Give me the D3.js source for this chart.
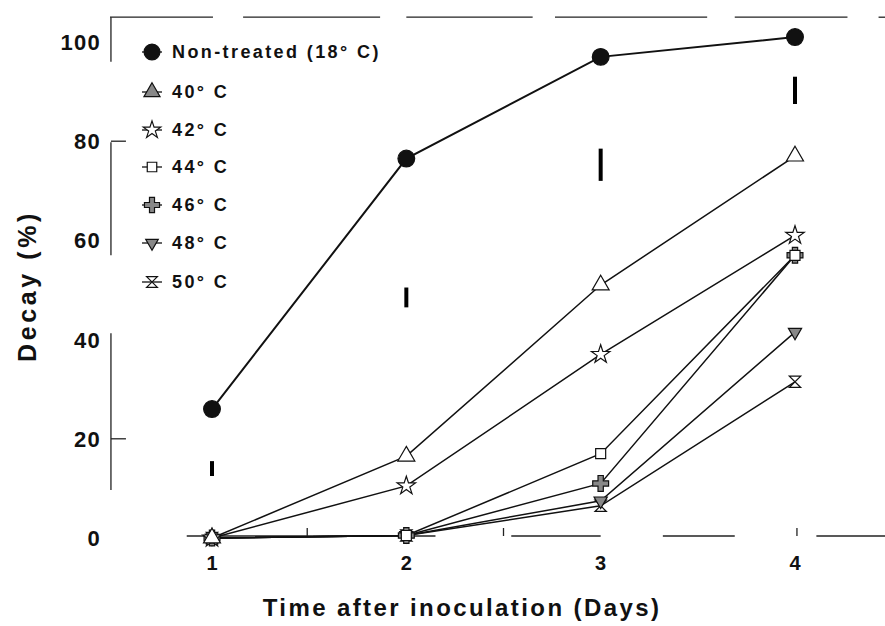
<!DOCTYPE html>
<html>
<head>
<meta charset="utf-8">
<script src="https://cdn.jsdelivr.net/npm/d3@7/dist/d3.min.js"></script>
<style>
  body { margin: 0; background: #fff; }
  text { font-family: "Liberation Sans", Arial, sans-serif; font-weight: bold; fill: #111; }
</style>
</head>
<body>
<div id="chart"></div>
<script>
var days = [1, 2, 3, 4];
var yTicks = [0, 20, 40, 60, 80, 100];

var seriesNames = ["Non-treated (18\u00b0 C)", "40\u00b0 C", "42\u00b0 C", "44\u00b0 C", "46\u00b0 C", "48\u00b0 C", "50\u00b0 C"];
var nonTreated = [26, 76.5, 97, 101];
var t40 = [0, 16.5, 51, 77];
var t42 = [0, 10.5, 37, 61];
var t44 = [0, 0.5, 17, 57];
var t46 = [0, 0.5, 11, 57];
var t48 = [0, 0.5, 7.5, 41.5];
var t50 = [0, 0.5, 6.5, 31.5];

// LSD bars shown above each day
var barLow = [12.5, 46.5, 72, 87.5];
var barHigh = [15.5, 50.5, 78.5, 93];

var width = 885, height = 626;

var x = d3.scaleLinear().domain([1, 4]).range([212, 795]);
var y = d3.scaleLinear().domain([0, 100]).range([538, 42]);

var svg = d3.select("#chart").append("svg")
  .attr("width", width).attr("height", height);

// broken frame, as in the scanned figure (data units)
var topSegs = [[0.475, 1.005], [1.16, 1.865], [2.0, 2.65], [2.765, 3.548], [3.69, 4.27], [4.43, 4.5]];
var leftSegs = [[105, 96], [79.8, 57], [41.3, 9.7]];
var bottomSegs = [[0.87, 2.15], [2.54, 3.0], [3.32, 3.69], [4.11, 4.5]];
var bottomMinor = [1.49, 2.5, 4.01];
var leftMinor = [80, 20];

var frame = svg.append("g").attr("stroke", "#222").attr("stroke-width", 1.3).attr("fill", "none");
frame.selectAll(".top").data(topSegs).enter().append("line")
  .attr("x1", function(d) { return x(d[0]); }).attr("x2", function(d) { return x(d[1]); })
  .attr("y1", y(105)).attr("y2", y(105));
frame.selectAll(".left").data(leftSegs).enter().append("line")
  .attr("x1", x(0.48)).attr("x2", x(0.48))
  .attr("y1", function(d) { return y(d[0]); }).attr("y2", function(d) { return y(d[1]); });
frame.selectAll(".lt").data(leftMinor).enter().append("line")
  .attr("x1", x(0.48)).attr("x2", x(0.48) + 15)
  .attr("y1", function(d) { return y(d); }).attr("y2", function(d) { return y(d); });
frame.selectAll(".bottom").data(bottomSegs).enter().append("line")
  .attr("x1", function(d) { return x(d[0]); }).attr("x2", function(d) { return x(d[1]); })
  .attr("y1", y(0) - 2).attr("y2", y(0) - 2);
frame.selectAll(".bt").data(bottomMinor).enter().append("line")
  .attr("x1", function(d) { return x(d); }).attr("x2", function(d) { return x(d); })
  .attr("y1", y(0) - 2).attr("y2", y(0) - 10);

// y tick labels
svg.append("g").selectAll("text").data(yTicks).enter().append("text")
  .attr("x", 101).attr("y", function(d) { return y(d); })
  .attr("dy", "0.36em").attr("text-anchor", "end")
  .style("font-size", "22px").style("letter-spacing", "1.3px")
  .text(function(d) { return d; });

// x tick labels
svg.append("g").selectAll("text").data(days).enter().append("text")
  .attr("x", function(d) { return x(d); }).attr("y", 570)
  .attr("text-anchor", "middle")
  .style("font-size", "20px")
  .text(function(d) { return d; });

svg.append("text")
  .attr("x", 462).attr("y", 616).attr("text-anchor", "middle")
  .style("font-size", "24px").style("letter-spacing", "2.4px")
  .text("Time after inoculation (Days)");

svg.append("text")
  .attr("transform", "translate(36,286) rotate(-90)")
  .attr("text-anchor", "middle")
  .style("font-size", "25px").style("letter-spacing", "3.6px")
  .text("Decay (%)");

// symbols
var hourglass = {
  draw: function(ctx, size) {
    var r = Math.sqrt(size) / 2;
    ctx.moveTo(-r, -r); ctx.lineTo(r, -r); ctx.lineTo(-r, r); ctx.lineTo(r, r); ctx.closePath();
  }
};
var styles = [
  {type: d3.symbolCircle, size: 220, fill: "#111"},
  {type: d3.symbolTriangle, size: 125, fill: "#fff"},
  {type: d3.symbolStar, size: 105, fill: "#fff"},
  {type: d3.symbolSquare, size: 100, fill: "#fff"},
  {type: d3.symbolCross, size: 140, fill: "#888"},
  {type: d3.symbolTriangle2, size: 125, fill: "#888", rot: 180},
  {type: hourglass, size: 130, fill: "#fff"}
];
var allSeries = [nonTreated, t40, t42, t44, t46, t48, t50];

var line = d3.line()
  .x(function(d, i) { return x(days[i]); })
  .y(function(d) { return y(d); });

var plot = svg.append("g");
plot.selectAll(".series").data(allSeries).enter().append("path")
  .attr("d", line)
  .attr("fill", "none").attr("stroke", "#111")
  .attr("stroke-width", function(d, i) { return i === 0 ? 2 : 1.5; });

// error bars
plot.selectAll(".lsd").data(days).enter().append("line")
  .attr("x1", function(d) { return x(d); }).attr("x2", function(d) { return x(d); })
  .attr("y1", function(d, i) { return y(barLow[i]); })
  .attr("y2", function(d, i) { return y(barHigh[i]); })
  .attr("stroke", "#000").attr("stroke-width", 4);

// markers, drawn from last series to first so the filled circle sits on top
allSeries.slice().reverse().forEach(function(vals, ri) {
  var si = allSeries.length - 1 - ri;
  var st = styles[si];
  plot.append("g").selectAll("path").data(vals).enter().append("path")
    .attr("transform", function(d, i) {
      return "translate(" + x(days[i]) + "," + y(d) + ")" + (st.rot ? " rotate(" + st.rot + ")" : "");
    })
    .attr("d", d3.symbol().type(st.type).size(st.size))
    .attr("fill", st.fill).attr("stroke", "#111").attr("stroke-width", 1.2);
});

// legend
var legendY = [52, 92, 130, 167, 205, 243, 282];
var legend = svg.append("g").selectAll("g").data(seriesNames).enter().append("g")
  .attr("transform", function(d, i) { return "translate(152," + legendY[i] + ")"; });
legend.append("line").attr("x1", -10).attr("x2", 10)
  .attr("stroke", "#111").attr("stroke-width", 1.3);
legend.append("path")
  .attr("transform", function(d, i) { return styles[i].rot ? "rotate(" + styles[i].rot + ")" : null; })
  .attr("d", function(d, i) { return d3.symbol().type(styles[i].type).size(styles[i].size * 0.9)(); })
  .attr("fill", function(d, i) { return i === 1 ? "#888" : styles[i].fill; })
  .attr("stroke", "#111").attr("stroke-width", 1.2);
legend.append("text")
  .attr("x", 20).attr("dy", "0.36em")
  .style("font-size", "18px").style("letter-spacing", "2.4px")
  .text(function(d) { return d; });
</script>
</body>
</html>
